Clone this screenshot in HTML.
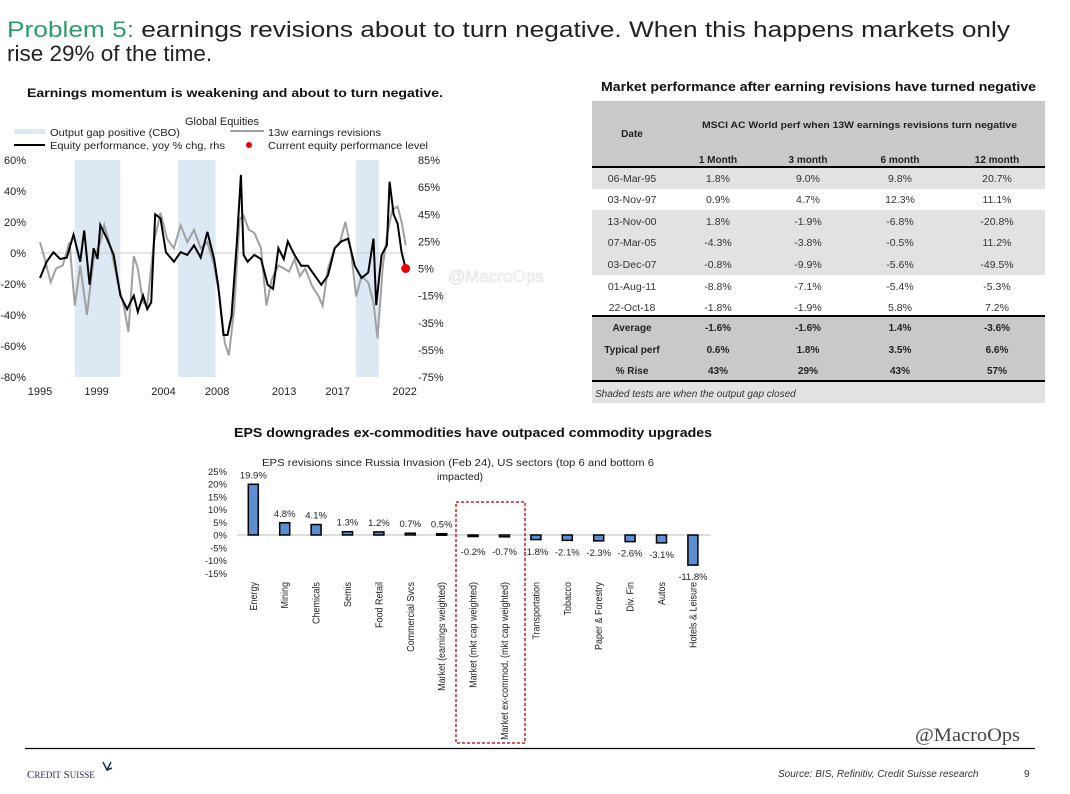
<!DOCTYPE html>
<html><head><meta charset="utf-8"><style>
html,body{margin:0;padding:0;background:#fff;}
svg{display:block;font-family:"Liberation Sans",sans-serif;}
</style></head><body>
<svg id="root" width="1070" height="794" viewBox="0 0 1070 794" xmlns="http://www.w3.org/2000/svg">
<g>
<text x="7" y="37" font-size="22.5" fill="#222" textLength="1003" lengthAdjust="spacingAndGlyphs"><tspan fill="#2e9c6a">Problem 5:</tspan> earnings revisions about to turn negative. When this happens markets only</text>
<text x="7" y="61" font-size="22.5" fill="#222">rise 29% of the time.</text>
</g>
<text x="27" y="97" font-size="12" font-weight="bold" fill="#111" textLength="416" lengthAdjust="spacingAndGlyphs">Earnings momentum is weakening and about to turn negative.</text>
<g id="lc"></g>
<g id="tbl"></g>
<text x="234" y="437" font-size="12.5" font-weight="bold" fill="#111" textLength="478" lengthAdjust="spacingAndGlyphs">EPS downgrades ex-commodities have outpaced commodity upgrades</text>
<g id="bc"></g>
<text x="915" y="741" font-size="19" fill="#444" font-family="Liberation Serif, serif" textLength="105" lengthAdjust="spacingAndGlyphs">@MacroOps</text>
<line x1="25" y1="748.5" x2="1035" y2="748.5" stroke="#000" stroke-width="1.2"/>
<text x="27" y="778" font-size="11" fill="#1a2a5a" font-family="Liberation Serif, serif">C<tspan font-size="9">REDIT</tspan> S<tspan font-size="9">UISSE</tspan></text>
<path d="M103 762 l4 8 l4 -8 M107 770 l5 -2" stroke="#1a2a5a" stroke-width="1.5" fill="none"/>
<text x="778" y="777" font-size="10" font-style="italic" fill="#333">Source: BIS, Refinitiv, Credit Suisse research</text>
<text x="1024" y="777" font-size="10" fill="#333">9</text>
</svg>
<script>
const NS="http://www.w3.org/2000/svg";
function mk(p,t,a,txt){const e=document.createElementNS(NS,t);for(const k in a)e.setAttribute(k,a[k]);if(txt!==undefined)e.textContent=txt;p.appendChild(e);return e;}

// ---------- Line chart data ----------
const leftTicks=[60,40,20,0,-20,-40,-60,-80];
const rightTicks=[85,65,45,25,5,-15,-35,-55,-75];
const yearTicks=[1995,1999,2004,2008,2013,2017,2022];
const shadeStart=[1997.6,2005.3,2018.6];
const shadeEnd=[2001.0,2008.1,2020.3];
const eqYears=[1995,1995.5,1996,1996.5,1997,1997.5,1998,1998.3,1998.7,1999,1999.3,1999.5,2000,2000.5,2001,2001.5,2002,2002.3,2002.7,2003,2003.3,2003.6,2004,2004.4,2005,2005.5,2006,2006.5,2007,2007.5,2008,2008.3,2008.7,2009,2009.3,2009.7,2010,2010.2,2010.5,2011,2011.5,2012,2012.4,2012.8,2013.2,2013.5,2014,2014.5,2015,2015.5,2016,2016.5,2017,2017.5,2018,2018.5,2019,2019.5,2019.9,2020.1,2020.5,2020.9,2021.1,2021.4,2021.7,2022,2022.3];
const eqValues=[-2,10,17,12,13,30,10,33,-7,20,12,37,27,15,-15,-25,-15,-27,-15,-25,-20,45,42,17,10,17,15,22,13,32,12,-7,-44,-44,-30,25,74,15,10,15,12,-7,-10,20,12,25,15,7,7,0,-7,0,20,25,27,7,-2,2,27,-22,15,22,69,45,38,17,5];
const revYears=[1995,1995.3,1995.8,1996.2,1996.7,1997.2,1997.6,1998,1998.5,1999,1999.5,1999.8,2000.3,2000.8,2001.3,2001.6,2002,2002.3,2002.7,2003,2003.5,2004,2004.5,2005,2005.5,2006,2006.5,2007,2007.5,2008,2008.4,2008.8,2009.1,2009.5,2009.9,2010.2,2010.6,2011,2011.5,2011.9,2012.3,2012.8,2013.2,2013.6,2014,2014.4,2014.8,2015.3,2015.8,2016.1,2016.5,2017,2017.4,2017.8,2018.2,2018.6,2019,2019.5,2019.9,2020.2,2020.6,2020.9,2021.3,2021.7,2022,2022.3];
const revValues=[7,-2,-19,-10,-8,7,-34,-8,-40,-4,7,18,3,-19,-36,-51,-2,-10,-32,-34,7,26,9,3,18,7,15,3,7,-8,-28,-58,-66,-36,22,24,15,13,3,-34,-17,-8,-10,-12,-4,-15,-10,-21,-28,-34,-10,3,7,20,3,-28,-15,-19,-32,-55,-8,11,28,30,20,5];

(function(){
const g=document.getElementById('lc');
const X0=40,X1=407,Y0=160,Y1=377;
const xs=y=>X0+(y-1995)/(2022.4-1995)*(X1-X0);
const yL=v=>Y0+(60-v)/140*(Y1-Y0);
const yR=v=>Y0+(85-v)/160*(Y1-Y0);
let t=mk(g,'text',{x:222,y:125,'font-size':11,'text-anchor':'middle',fill:'#222'},'Global Equities');

let lg=mk(g,'g',{});
mk(lg,'rect',{x:14,y:129,width:31,height:5,fill:'#dce8f4'});
mk(lg,'text',{x:50,y:136,'font-size':10.5,fill:'#222',textLength:130,lengthAdjust:'spacingAndGlyphs'},'Output gap positive (CBO)');
mk(lg,'line',{x1:230,y1:131,x2:264,y2:131,stroke:'#a0a0a0','stroke-width':2});
mk(lg,'text',{x:268,y:136,'font-size':10.5,fill:'#222',textLength:113,lengthAdjust:'spacingAndGlyphs'},'13w earnings revisions');
mk(lg,'line',{x1:14,y1:145,x2:45,y2:145,stroke:'#000','stroke-width':2});
mk(lg,'text',{x:50,y:149,'font-size':10.5,fill:'#222',textLength:175,lengthAdjust:'spacingAndGlyphs'},'Equity performance, yoy % chg, rhs');
mk(lg,'circle',{cx:249,cy:145,r:3,fill:'#e00'});
mk(lg,'text',{x:268,y:149,'font-size':10.5,fill:'#222',textLength:160,lengthAdjust:'spacingAndGlyphs'},'Current equity performance level');
for(let i=0;i<shadeStart.length;i++){
 const r=mk(g,'rect',{x:xs(shadeStart[i]),y:Y0,width:xs(shadeEnd[i])-xs(shadeStart[i]),height:Y1-Y0,fill:'#dce8f4'});
 
}
mk(g,'line',{x1:X0,y1:yL(0),x2:X1,y2:yL(0),stroke:'#ccc','stroke-width':1});
leftTicks.forEach(v=>{const e=mk(g,'text',{x:26,y:yL(v)+4,'font-size':11,'text-anchor':'end',fill:'#222'},v+'%');});
rightTicks.forEach(v=>{const e=mk(g,'text',{x:418,y:yR(v)+4,'font-size':11,fill:'#222'},v+'%');});
yearTicks.forEach(v=>{const e=mk(g,'text',{x:xs(v)+(v===1995?0:3),y:395,'font-size':11,'text-anchor':'middle',fill:'#222'},String(v));});
let d=revYears.map((y,i)=>(i?'L':'M')+xs(y).toFixed(1)+' '+yL(revValues[i]).toFixed(1)).join(' ');
let p=mk(g,'path',{d:d,fill:'none',stroke:'#a0a0a0','stroke-width':2});

d=eqYears.map((y,i)=>(i?'L':'M')+xs(y).toFixed(1)+' '+yR(eqValues[i]).toFixed(1)).join(' ');
p=mk(g,'path',{d:d,fill:'none',stroke:'#000','stroke-width':2});

const n=eqYears.length-1;
let c=mk(g,'circle',{cx:xs(eqYears[n]),cy:yR(eqValues[n]),r:4.5,fill:'#e00'});

let w=mk(g,'text',{x:448,y:282,'font-size':17,fill:'none',stroke:'#e6e6e6','stroke-width':0.8},'@MacroOps');

})();

// ---------- Table ----------
const tDates=['06-Mar-95','03-Nov-97','13-Nov-00','07-Mar-05','03-Dec-07','01-Aug-11','22-Oct-18'];
const t1m=['1.8%','0.9%','1.8%','-4.3%','-0.8%','-8.8%','-1.8%'];
const t3m=['9.0%','4.7%','-1.9%','-3.8%','-9.9%','-7.1%','-1.9%'];
const t6m=['9.8%','12.3%','-6.8%','-0.5%','-5.6%','-5.4%','5.8%'];
const t12m=['20.7%','11.1%','-20.8%','11.2%','-49.5%','-5.3%','7.2%'];
const sumLabels=['Average','Typical perf','% Rise'];
const sum1=['-1.6%','0.6%','43%'],sum3=['-1.6%','1.8%','29%'],sum6=['1.4%','3.5%','43%'],sum12=['-3.6%','6.6%','57%'];
(function(){
const g=document.getElementById('tbl');
const L=592,R=1045,cx=[632,718,808,900,997];
let t=mk(g,'text',{x:601,y:91,'font-size':12.5,'font-weight':'bold',fill:'#111',textLength:435,lengthAdjust:'spacingAndGlyphs'},'Market performance after earning revisions have turned negative');

mk(g,'rect',{x:L,y:101,width:R-L,height:66,fill:'#c9c9c9'});
mk(g,'text',{x:cx[0],y:137,'font-size':10,'font-weight':'bold','text-anchor':'middle',fill:'#222'},'Date');
mk(g,'text',{x:702,y:128,'font-size':9.5,'font-weight':'bold',fill:'#222',textLength:315,lengthAdjust:'spacingAndGlyphs'},'MSCI AC World perf when 13W earnings revisions turn negative');
['1 Month','3 month','6 month','12 month'].forEach((h,i)=>mk(g,'text',{x:cx[i+1],y:163,'font-size':10,'font-weight':'bold','text-anchor':'middle',fill:'#222'},h));
const rowY=[178,199,221,242,264,286,307];
mk(g,'rect',{x:L,y:168,width:R-L,height:21,fill:'#e2e2e2'});
mk(g,'rect',{x:L,y:210,width:R-L,height:65,fill:'#e2e2e2'});
tDates.forEach((dt,i)=>{
 const cols=[dt,t1m[i],t3m[i],t6m[i],t12m[i]];
 const r=mk(g,'g',{});
 cols.forEach((v,j)=>mk(r,'text',{x:cx[j],y:rowY[i]+4,'font-size':10.5,'text-anchor':'middle',fill:'#333'},v));
});
mk(g,'rect',{x:L,y:317,width:R-L,height:63,fill:'#c9c9c9'});
sumLabels.forEach((s,i)=>{
 const y=[331,353,374][i];
 const r=mk(g,'g',{});
 [s,sum1[i],sum3[i],sum6[i],sum12[i]].forEach((v,j)=>mk(r,'text',{x:cx[j],y:y,'font-size':10,'font-weight':'bold','text-anchor':'middle',fill:'#222'},v));
});
mk(g,'rect',{x:L,y:382,width:R-L,height:21,fill:'#e2e2e2'});
mk(g,'text',{x:595,y:397,'font-size':10,'font-style':'italic',fill:'#333'},'Shaded tests are when the output gap closed');
[167,316,381].forEach(y=>mk(g,'line',{x1:L,y1:y,x2:R,y2:y,stroke:'#000','stroke-width':2}));
})();

// ---------- Bar chart ----------
const barCats=['Energy','Mining','Chemicals','Semis','Food Retail','Commercial Svcs','Market (earnings weighted)','Market (mkt cap weighted)','Market ex-commod. (mkt cap weighted)','Transportation','Tobacco','Paper & Forestry','Div. Fin','Autos','Hotels & Leisure'];
const barVals=[19.9,4.8,4.1,1.3,1.2,0.7,0.5,-0.2,-0.7,-1.8,-2.1,-2.3,-2.6,-3.1,-11.8];
const barTicks=[25,20,15,10,5,0,-5,-10,-15];
(function(){
const g=document.getElementById('bc');
const y0=535,k=2.55,x0=253.3,step=31.4,bw=10;
const ys=v=>y0-v*k, xs=i=>x0+i*step;
let t=mk(g,'text',{x:262,y:466,'font-size':10.5,fill:'#222',textLength:392,lengthAdjust:'spacingAndGlyphs'},'EPS revisions since Russia Invasion (Feb 24), US sectors (top 6 and bottom 6');

mk(g,'text',{x:460,y:480,'font-size':10.5,'text-anchor':'middle',fill:'#222'},'impacted)');
barTicks.forEach(v=>{const e=mk(g,'text',{x:227,y:ys(v)+3.5,'font-size':9.5,'text-anchor':'end',fill:'#222'},v+'%');});
mk(g,'line',{x1:237,y1:y0,x2:710,y2:y0,stroke:'#bbb','stroke-width':1});
barVals.forEach((v,i)=>{
 const top=Math.min(ys(v),y0),h=Math.max(Math.abs(v*k),1.5);
 const r=mk(g,'rect',{x:xs(i)-bw/2,y:top,width:bw,height:h,fill:'#5b8fd0',stroke:'#000','stroke-width':1.5});
 
 const ly=v>=0?ys(v)-6:Math.max(ys(v)+15,y0+20);
 const lb=mk(g,'text',{x:xs(i),y:ly,'font-size':9.5,'text-anchor':'middle',fill:'#222'},v.toFixed(1)+'%');
 
 const cl=mk(g,'text',{x:0,y:0,'font-size':10,'text-anchor':'end',fill:'#222',transform:'translate('+(xs(i)+3.5)+',582) rotate(-90) scale(0.9,1)'},barCats[i]);
 
});
const box=mk(g,'rect',{x:456,y:502,width:69,height:241,fill:'none',stroke:'#d02020','stroke-width':1.5,'stroke-dasharray':'3,2'});

})();
</script>
</body></html>
